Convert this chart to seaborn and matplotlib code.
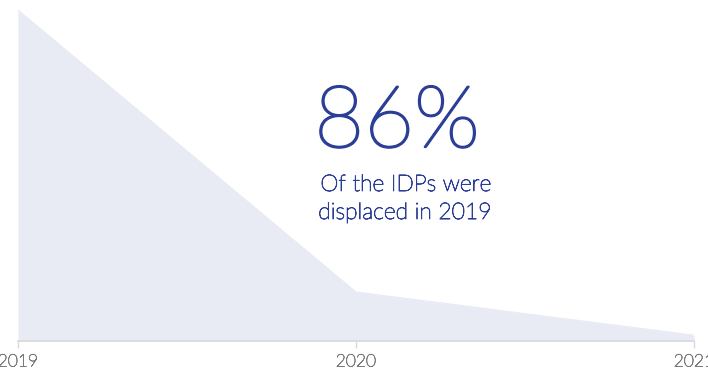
import matplotlib
matplotlib.use("Agg")
import matplotlib.pyplot as plt
import matplotlib.patheffects as pe
import numpy as np
import pandas as pd
import seaborn as sns

years = [2019, 2020, 2021]
idp_share = [85.8, 12.7, 1.5]
headline = "86%"
caption = ["Of the IDPs were", "displaced in 2019"]

fill_col = "#e8eaf4"
text_col = "#2b3f96"
axis_col = "#d9d9d9"
tick_col = "#7a7a7a"

sns.set_theme(style="white")
plt.rcParams["font.family"] = ["Lato", "DejaVu Sans"]

W, H = 708, 372
fig = plt.figure(figsize=(W / 100, H / 100), dpi=100)
ax = fig.add_axes([18 / W, (H - 341) / H, (694 - 18) / W, (341 - 10) / H])

df = pd.DataFrame({"year": years, "share": idp_share})
sns.lineplot(data=df, x="year", y="share", color=fill_col, linewidth=0.8, ax=ax)
ax.fill_between(df.year, df.share, 0, color=fill_col, linewidth=0)

ax.set_xlim(years[0], years[-1])
ax.set_ylim(0, max(idp_share))
ax.set_xticks(years)
ax.set_xticklabels([str(y) for y in years])
ax.set_yticks([])
ax.set_xlabel("")
ax.set_ylabel("")
for s in ["top", "right", "left"]:
    ax.spines[s].set_visible(False)
ax.spines["bottom"].set_color(axis_col)
ax.spines["bottom"].set_linewidth(1.2)
ax.tick_params(axis="x", bottom=True, length=5, width=1, color=axis_col,
               labelsize=12.5, labelcolor=tick_col, pad=4)
for lab in ax.get_xticklabels():
    lab.set_fontweight("light")
    lab.set_path_effects([pe.withStroke(linewidth=0.5, foreground=tick_col)])

fig.text(397 / W, 1 - 147 / H, headline, ha="center", va="baseline",
         fontsize=62, color=text_col, fontweight="light",
         path_effects=[pe.withStroke(linewidth=1.6, foreground=text_col)])
for i, line in enumerate(caption):
    fig.text(491 / W, 1 - (191 + 28 * i) / H, line, ha="right", va="baseline",
             fontsize=16.5, color=text_col, fontweight="light",
             path_effects=[pe.withStroke(linewidth=0.6, foreground=text_col)])

fig.savefig("out.png", dpi=100)
